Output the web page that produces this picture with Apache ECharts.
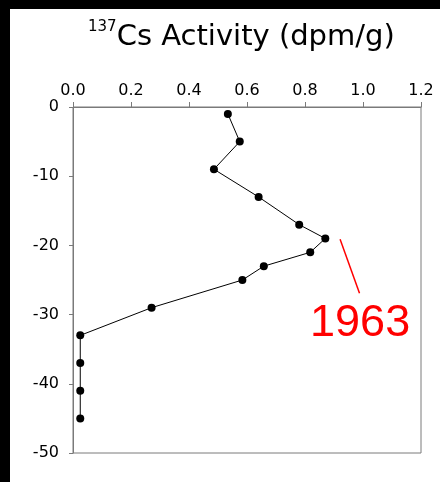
<!DOCTYPE html>
<html>
<head>
<meta charset="utf-8">
<script src="https://cdn.jsdelivr.net/npm/echarts@6/dist/echarts.min.js"></script>
<style>
  html, body { margin: 0; padding: 0; background: #000; }
  #chart { position: absolute; left: 10px; top: 9px; width: 430px; height: 473px; background: #fff; }
</style>
</head>
<body>
<div id="chart"></div>
<script>
// 137Cs activity profile with depth (cm)
const activity = [0.534, 0.575, 0.486, 0.640, 0.780, 0.870, 0.818, 0.658, 0.584, 0.271, 0.025, 0.025, 0.025, 0.025];
const depth = [-1, -5, -9, -13, -17, -19, -21, -23, -25, -29, -33, -37, -41, -45];

// 1963 fallout peak marker
const markerLine = [[0.921, -19.1], [0.988, -26.9]];
const markerLabelPos = [0.99, -31.3];
const markerText = '1963';

const xTicks = { min: 0, max: 1.2, interval: 0.2 };
const yTicks = { min: -50, max: 0, interval: 10 };

const profile = activity.map((a, i) => [a, depth[i]]);

const chart = echarts.init(document.getElementById('chart'));
const font = 'DejaVu Sans';
const axisGray = '#7a7a7a';

chart.setOption({
  animation: false,
  backgroundColor: '#fff',
  title: {
    left: 78, top: 11, padding: 0,
    text: '{s|137}{m|Cs Activity (dpm/g)}',
    textStyle: {
      fontWeight: 'normal',
      rich: {
        s: { fontFamily: font, fontSize: 15, fontWeight: 'normal', color: '#000', verticalAlign: 'top', lineHeight: 13 },
        m: { fontFamily: font, fontSize: 29, fontWeight: 'normal', color: '#000', lineHeight: 34 }
      }
    }
  },
  grid: {
    left: 63, right: 19, top: 98, bottom: 29,
    show: true, borderColor: axisGray, borderWidth: 1, backgroundColor: 'transparent'
  },
  xAxis: {
    type: 'value', position: 'top',
    min: xTicks.min, max: xTicks.max, interval: xTicks.interval,
    splitLine: { show: false },
    axisLine: { show: true, lineStyle: { color: axisGray, width: 1 } },
    axisTick: { show: true, length: 5, lineStyle: { color: axisGray } },
    axisLabel: {
      fontFamily: font, fontSize: 16, color: '#000', margin: 8,
      formatter: v => v.toFixed(1)
    }
  },
  yAxis: {
    type: 'value',
    min: yTicks.min, max: yTicks.max, interval: yTicks.interval,
    splitLine: { show: false },
    axisLine: { show: true, lineStyle: { color: axisGray, width: 1 } },
    axisTick: { show: true, length: 4, lineStyle: { color: axisGray } },
    axisLabel: { fontFamily: font, fontSize: 16, color: '#000', margin: 14 }
  },
  series: [
    {
      type: 'line',
      data: profile,
      symbol: 'circle', symbolSize: 8,
      itemStyle: { color: '#000' },
      lineStyle: { color: '#000', width: 1 }
    },
    {
      type: 'line',
      data: markerLine,
      symbol: 'none',
      lineStyle: { color: '#ff0000', width: 1.5 }
    },
    {
      type: 'scatter',
      data: [markerLabelPos],
      symbolSize: 0,
      itemStyle: { opacity: 1 },
      label: {
        show: true, position: 'inside',
        formatter: markerText, opacity: 1,
        fontFamily: 'Liberation Sans', fontSize: 45, color: '#ff0000'
      }
    }
  ]
});
</script>
</body>
</html>
